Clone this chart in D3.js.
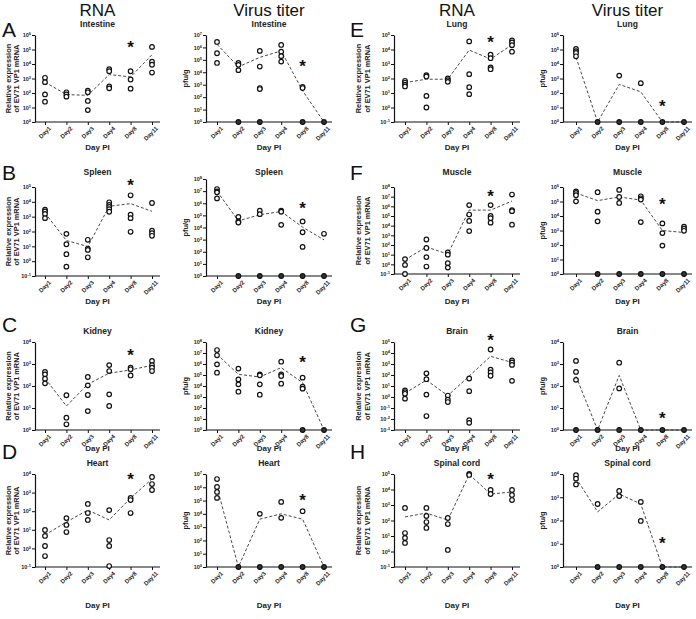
<!DOCTYPE html>
<html><head><meta charset="utf-8">
<script src="https://cdn.jsdelivr.net/npm/d3@7"></script>
<style>body{margin:0;background:#fff}text{font-family:"Liberation Sans",Arial,sans-serif}</style>
</head><body>
<script>
const days = ["Day1","Day2","Day3","Day4","Day8","Day11"];
// all values are log10 of the plotted quantity (0 on virus panels = not detected)
const intestineRnaPts = [[3.05,2.75,1.9,1.4],[2.05,1.9,1.75],[2.16,2.05,1.45,0.82],[3.64,3.5,2.45,2.32],[3.5,2.93,2.3],[5.18,4.16,3.95,3.41]];
const intestineRnaMean = [2.75,1.89,1.84,3.27,3.11,4.64];
const intestineVirPts = [[6.44,5.53,4.75],[4.75,4.6,4.17,0],[5.72,4.46,2.73,2.65,0],[6.2,5.66,5.3,4.86],[2.83,2.73,0],[0]];
const intestineVirMean = [6.25,4.44,5.2,5.72,2.51,0];
const lungRnaPts = [[1.84,1.72,1.58,1.45],[2.23,2.14,0.8,0],[2.0,1.88,1.77],[4.56,2.3,1.4,0.92],[3.64,3.4,2.76,2.64],[4.63,4.49,4.3,3.85]];
const lungRnaMean = [1.72,1.95,1.95,3.96,3.34,4.33];
const lungVirPts = [[5.04,4.88,4.76,4.53],[0],[3.2,0],[2.68,0],[0],[0]];
const lungVirMean = [4.46,0,2.59,2.08,0,0];
const spleenRnaPts = [[3.47,3.36,3.18,2.9],[1.84,1.14,0.47,-0.37],[1.44,0.85,0.76,0.26],[3.97,3.79,3.65,3.51,3.33],[4.44,3.13,2.9,1.98],[3.92,2.05,1.89,1.71]];
const spleenRnaMean = [3.24,1.39,0.99,3.7,3.88,3.36];
const spleenVirPts = [[7.17,6.98,6.9,6.4],[4.88,4.5,4.41,0],[5.38,5.1,0],[5.38,5.3,4.22,0],[4.5,3.61,2.4,0],[3.48,0]];
const spleenVirMean = [6.98,4.55,5.05,5.32,4.03,2.98];
const muscleRnaPts = [[0.54,-0.06,-1],[2.57,1.69,0.75,-0.23],[1.24,1.0,0.12,-0.34],[6.13,5.15,4.49,3.44],[6.13,5.01,4.77,4.31],[7.22,5.61,5.5,4.1]];
const muscleRnaMean = [0.47,1.8,1.06,5.61,5.61,6.55];
const muscleVirPts = [[5.7,5.59,5.43,5.01],[5.64,4.3,3.63,0],[5.8,5.31,4.9,0],[5.36,5.22,5.13,3.58,0],[3.49,2.82,1.96,0],[3.26,3.12,2.98,0]];
const muscleVirMean = [5.59,5.06,5.31,5.1,3.0,2.86];
const kidneyRnaPts = [[2.64,2.53,2.33,2.12],[1.58,0.56,0.26],[2.41,2.03,1.59,0.86],[2.95,2.68,1.62,1.09],[2.83,2.76,2.48],[3.14,2.95,2.83,2.68]];
const kidneyRnaMean = [2.35,1.09,2.08,2.58,2.73,2.94];
const kidneyVirPts = [[7.27,6.79,5.97,5.21],[5.58,4.6,4.15,3.48],[5.06,4.97,4.15,3.21],[6.21,5.06,4.91,4.21],[4.76,3.94,3.76,0],[0]];
const kidneyVirMean = [6.88,5.06,4.82,5.67,4.3,0];
const brainRnaPts = [[0.6,0.44,0.29,-0.15],[2.15,1.62,0.22,-1.73],[0.13,-0.24,-0.46],[1.68,0.53,-2.1,-2.35],[4.32,2.49,2.24,1.93],[3.33,3.14,2.92,1.47]];
const brainRnaMean = [0.35,1.53,0.13,1.9,3.7,3.14];
const brainVirPts = [[3.14,2.64,2.28,0],[0],[3.06,1.89,0],[0],[0],[0]];
const brainVirMean = [2.44,0,2.48,0,0,0];
const heartRnaPts = [[0.99,0.67,0.13,-0.41],[1.63,1.26,0.88],[2.39,1.9,1.53],[2.06,0.45,0.13,-0.95],[2.71,2.6,1.9],[3.84,3.46,3.14]];
const heartRnaMean = [0.72,1.42,2.06,1.53,2.71,3.73];
const heartVirPts = [[6.62,6.02,5.65,5.2],[0],[4.0,0],[4.9,3.7,0],[4.2,0],[0]];
const heartVirMean = [6.02,0,3.6,4.0,3.6,0];
const spinalRnaPts = [[2.81,1.19,0.87,0.55],[2.81,2.29,1.9,1.52],[2.16,1.77,0.1],[5.0,4.94],[3.97,3.71],[3.97,3.65,3.32]];
const spinalRnaMean = [2.23,2.48,2.03,4.97,3.71,3.84];
const spinalVirPts = [[3.95,3.8,3.55],[2.71,0],[3.27,3.05,0],[2.8,1.98,0],[0],[0]];
const spinalVirMean = [3.83,2.37,3.14,2.71,0,0];
const colHeaders = ["RNA","Virus titer","RNA","Virus titer"];
const rnaYTitle = ["Relative expression","of EV71 VP1 mRNA"];
const virYTitle = "pfu/g";
const xTitle = "Day PI";

// layout
const cols = [
  {ax:35, d1:45, d11:152, end:160, letter:2, yt:[10.5,19]},
  {ax:206, d1:217, d11:324, end:332, yt:[188]},
  {ax:394, d1:405, d11:512, end:520, letter:350, yt:[361,369.5]},
  {ax:563, d1:576, d11:684, end:692, yt:[545]}
];
const rows = [
  {top:35, bot:122, title:27, letter:37, dp:150},
  {top:187, bot:276, title:175, letter:180, dp:304},
  {top:342, bot:430, title:334, letter:332, dp:451},
  {top:474, bot:567, title:466, letter:459, dp:608}
];

const panels = [
  {L:"A",c:0,r:0,t:"Intestine",k:"rna",dom:[0,6],p:intestineRnaPts,m:intestineRnaMean,s:5.38},
  {c:1,r:0,t:"Intestine",k:"vir",dom:[0,7],p:intestineVirPts,m:intestineVirMean,s:4.75},
  {L:"E",c:2,r:0,t:"Lung",k:"rna",dom:[-1,5],p:lungRnaPts,m:lungRnaMean,s:4.72},
  {c:3,r:0,t:"Lung",k:"vir",dom:[0,6],p:lungVirPts,m:lungVirMean,s:1.31},
  {L:"B",c:0,r:1,t:"Spleen",k:"rna",dom:[-1,5],p:spleenRnaPts,m:spleenRnaMean,s:5.34},
  {c:1,r:1,t:"Spleen",k:"vir",dom:[0,8],p:spleenVirPts,m:spleenVirMean,s:5.86,top:179},
  {L:"F",c:2,r:1,t:"Muscle",k:"rna",dom:[-1,8],p:muscleRnaPts,m:muscleRnaMean,s:7.39,bot:274},
  {c:3,r:1,t:"Muscle",k:"vir",dom:[0,6],p:muscleVirPts,m:muscleVirMean,s:5.05,bot:274},
  {L:"C",c:0,r:2,t:"Kidney",k:"rna",dom:[0,4],p:kidneyRnaPts,m:kidneyRnaMean,s:3.55},
  {c:1,r:2,t:"Kidney",k:"vir",dom:[0,8],p:kidneyVirPts,m:kidneyVirMean,s:6.45},
  {L:"G",c:2,r:2,t:"Brain",k:"rna",dom:[-3,5],p:brainRnaPts,m:brainRnaMean,s:5.45},
  {c:3,r:2,t:"Brain",k:"vir",dom:[0,4],p:brainVirPts,m:brainVirMean,s:0.68},
  {L:"D",c:0,r:3,t:"Heart",k:"rna",dom:[-1,4],p:heartRnaPts,m:heartRnaMean,s:3.9},
  {c:1,r:3,t:"Heart",k:"vir",dom:[0,7],p:heartVirPts,m:heartVirMean,s:5.27},
  {L:"H",c:2,r:3,t:"Spinal cord",k:"rna",dom:[-1,5],p:spinalRnaPts,m:spinalRnaMean,s:4.87},
  {c:3,r:3,t:"Spinal cord",k:"vir",dom:[0,4],p:spinalVirPts,m:spinalVirMean,s:1.16}
];

const svg = d3.select("body").append("svg").attr("width",696).attr("height",619);

colHeaders.forEach((h,i)=>{
  const c = cols[i];
  svg.append("text").attr("x",(c.ax+c.end)/2).attr("y",16).attr("text-anchor","middle")
    .attr("font-size",17).attr("fill","#111").text(h);
});

panels.forEach(P=>{
  const c = cols[P.c], r = rows[P.r];
  const top = P.top ?? r.top, bot = P.bot ?? r.bot;
  const g = svg.append("g");
  const y = d3.scaleLog().domain([Math.pow(10,P.dom[0]),Math.pow(10,P.dom[1])]).range([bot,top]);
  const x = d3.scalePoint().domain(days).range([c.d1,c.d11]);
  const cx = (c.ax+c.end)/2;
  if(P.L){
    svg.append("text").attr("x",c.letter).attr("y",r.letter).attr("font-size",21).attr("fill","#111").text(P.L);
  }
  g.append("text").attr("x",cx).attr("y",r.title).attr("text-anchor","middle")
    .attr("font-size",8.5).attr("font-weight","bold").attr("fill","#222").text(P.t);
  const tv = d3.range(P.dom[0],P.dom[1]+1).map(e=>Math.pow(10,e));
  const ya = g.append("g").attr("transform",`translate(${c.ax},0)`)
    .call(d3.axisLeft(y).tickValues(tv).tickSize(3).tickSizeOuter(0).tickFormat(""));
  ya.selectAll(".tick").each(function(d){
    const e = Math.round(Math.log10(d));
    const t = d3.select(this).append("text").attr("x",-4).attr("dy","0.32em")
      .attr("text-anchor","end").attr("fill","#222").attr("font-size",5.5).attr("font-weight","bold");
    t.append("tspan").text("10");
    t.append("tspan").attr("dy","-0.5em").attr("font-size",4).text(e);
  });
  const xa = g.append("g").attr("transform",`translate(0,${bot})`)
    .call(d3.axisBottom(x).tickSize(3).tickSizeOuter(0));
  xa.select(".domain").attr("d",`M${c.ax},0H${c.end}`);
  xa.selectAll(".tick text").attr("font-size",6).attr("font-weight","bold").attr("fill","#222")
    .attr("text-anchor","end").attr("dx","-0.1em").attr("dy","0.5em").attr("transform","rotate(-45)");
  g.selectAll(".domain").attr("stroke","#111").attr("stroke-width",1.2);
  g.selectAll(".tick line").attr("stroke","#111");
  g.append("text").attr("x",cx).attr("y",r.dp).attr("text-anchor","middle")
    .attr("font-size",8).attr("font-weight","bold").attr("fill","#222").text(xTitle);
  const my = (top+bot)/2;
  if(P.k==="rna"){
    rnaYTitle.forEach((s,i)=>{
      g.append("text").attr("transform",`translate(${c.yt[i]},${my}) rotate(-90)`)
        .attr("text-anchor","middle").attr("font-size",7.4).attr("font-weight","bold").attr("fill","#222").text(s);
    });
  } else {
    g.append("text").attr("transform",`translate(${c.yt[0]},${my}) rotate(-90)`)
      .attr("text-anchor","middle").attr("font-size",7.4).attr("font-weight","bold").attr("fill","#222").text(virYTitle);
  }
  const line = d3.line().x((d,i)=>x(days[i])).y(d=>y(Math.pow(10,d)));
  g.append("path").datum(P.m).attr("d",line).attr("fill","none").attr("stroke","#333")
    .attr("stroke-width",0.9).attr("stroke-dasharray","3,2");
  const pts = [];
  P.p.forEach((arr,i)=>arr.forEach(v=>pts.push({day:days[i],v})));
  g.selectAll("circle").data(pts).join("circle")
    .attr("cx",d=>x(d.day)).attr("cy",d=>y(Math.pow(10,d.v))).attr("r",2.3)
    .attr("fill",d=>(P.k==="vir"&&d.v===0)?"#333":"#fff").attr("stroke","#111").attr("stroke-width",1.2);
  g.append("text").attr("x",x("Day8")).attr("y",y(Math.pow(10,P.s))+9).attr("text-anchor","middle")
    .attr("font-size",17).attr("font-weight","bold").attr("fill","#111").text("*");
});
</script>
</body></html>
